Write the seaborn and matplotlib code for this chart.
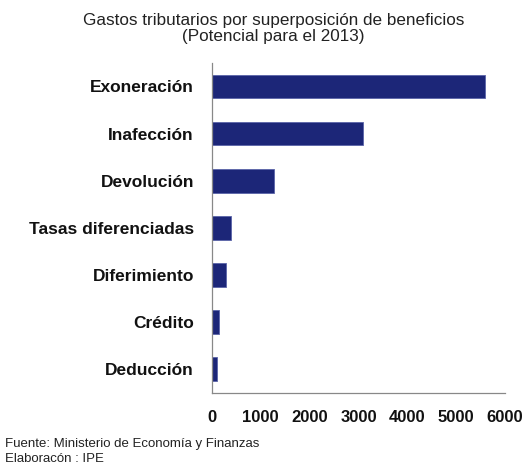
import matplotlib
matplotlib.use("Agg")
import matplotlib.pyplot as plt
import seaborn as sns
import pandas as pd

categories = ["Exoneración", "Inafección", "Devolución", "Tasas diferenciadas",
              "Diferimiento", "Crédito", "Deducción"]
values = [5590, 3100, 1280, 380, 290, 150, 95]
x_ticks = [0, 1000, 2000, 3000, 4000, 5000, 6000]

sns.set_theme(style="white")
plt.rcParams['font.family'] = ['Liberation Sans', 'DejaVu Sans']

df = pd.DataFrame({"cat": categories, "val": values})

fig = plt.figure(figsize=(5.26, 4.66), dpi=100)
ax = fig.add_axes([0.403, 0.157, 0.557, 0.708])

sns.barplot(data=df, x="val", y="cat", orient="h", color="#1c2678",
            saturation=1, width=0.5, edgecolor="#5a64a8", linewidth=0.6, ax=ax)

ax.set_xlim(0, 6000)
ax.set_ylim(len(categories) - 0.5, -0.5)
ax.set_xticks(x_ticks)
ax.set_xticklabels([str(t) for t in x_ticks], fontsize=12, fontweight="bold", color="#111111")
ax.set_yticks(range(len(categories)))
ax.set_yticklabels(categories, fontsize=12.5, fontweight="bold", color="#111111")
ax.set_yticks([i - 0.5 for i in range(len(categories) + 1)], minor=True)
ax.tick_params(axis="y", which="major", length=0, pad=13)
ax.tick_params(axis="y", which="minor", length=5, width=0.8, color="#888888", direction="out")
ax.tick_params(axis="x", which="major", length=4, width=0.8, color="#888888", direction="out", pad=8)
ax.set_xlabel("")
ax.set_ylabel("")

for s in ["top", "right"]:
    ax.spines[s].set_visible(False)
for s in ["left", "bottom"]:
    ax.spines[s].set_color("#888888")
    ax.spines[s].set_linewidth(0.9)

fig.text(0.52, 0.957, "Gastos tributarios por superposición de beneficios",
         ha="center", va="center", fontsize=12.3, color="#222222")
fig.text(0.52, 0.921, "(Potencial para el 2013)",
         ha="center", va="center", fontsize=12.3, color="#222222")

fig.text(0.01, 0.047, "Fuente: Ministerio de Economía y Finanzas",
         ha="left", va="center", fontsize=9.5, color="#222222")
fig.text(0.01, 0.015, "Elaboracón : IPE",
         ha="left", va="center", fontsize=9.5, color="#222222")

fig.savefig("out.png", dpi=100, facecolor="white")
